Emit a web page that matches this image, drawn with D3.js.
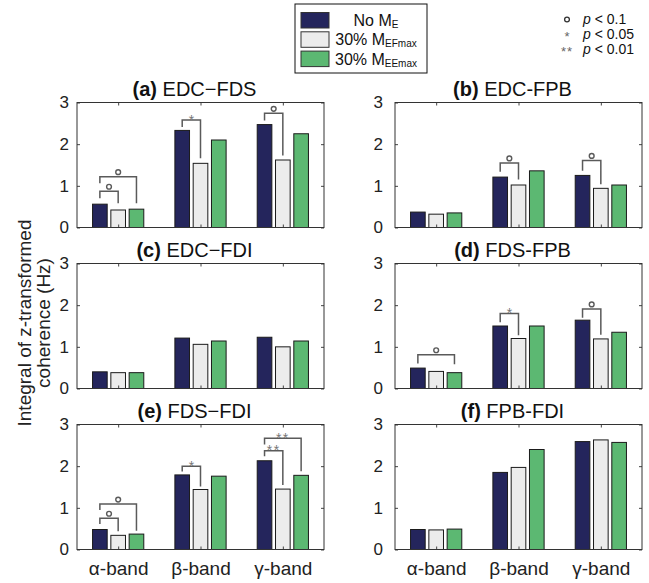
<!DOCTYPE html>
<html>
<head>
<meta charset="utf-8">
<script src="https://cdn.jsdelivr.net/npm/d3@7"></script>
<style>
  html, body { margin: 0; padding: 0; background: #fff; }
  svg { display: block; font-family: "Liberation Sans", Arial, sans-serif; }
</style>
</head>
<body>
<svg id="chart" width="649" height="583"></svg>
<script>
// ---------------- data ----------------
const bands = ["α-band", "β-band", "γ-band"];
const seriesMain = ["No M", "30% M", "30% M"];
const seriesSub = ["E", "EFmax", "EEmax"];
const seriesColors = ["#24255c", "#ececec", "#5cb872"];
const yTicks = [0, 1, 2, 3];

const panelLetters = ["(a)", "(b)", "(c)", "(d)", "(e)", "(f)"];
const panelNames = ["EDC\u2212FDS", "EDC-FPB", "EDC\u2212FDI", "FDS-FPB", "FDS\u2212FDI", "FPB-FDI"];

// rows = series (No ME, 30% MEFmax, 30% MEEmax), columns = bands (alpha, beta, gamma)
const edcFds = [[0.56, 2.33, 2.47], [0.42, 1.54, 1.62], [0.44, 2.10, 2.25]];
const edcFpb = [[0.37, 1.21, 1.25], [0.32, 1.02, 0.94], [0.35, 1.36, 1.02]];
const edcFdi = [[0.40, 1.21, 1.23], [0.38, 1.06, 1.00], [0.38, 1.14, 1.14]];
const fdsFpb = [[0.49, 1.50, 1.64], [0.41, 1.20, 1.19], [0.38, 1.50, 1.35]];
const fdsFdi = [[0.48, 1.79, 2.13], [0.34, 1.44, 1.45], [0.37, 1.76, 1.78]];
const fpbFdi = [[0.48, 1.85, 2.59], [0.47, 1.97, 2.63], [0.49, 2.40, 2.57]];

// significance brackets: [band, fromSeries, toSeries, topValue, leftLegEnd, rightLegEnd, symbol]
const sigEdcFds = [[0, 0, 1, 0.87, 0.70, 0.58, "o"], [0, 0, 2, 1.22, 1.06, 0.58, "o"],
                   [1, 0, 1, 2.58, 2.41, 1.66, "*"], [2, 0, 1, 2.74, 2.57, 1.73, "o"]];
const sigEdcFpb = [[1, 0, 1, 1.55, 1.34, 1.15, "o"], [2, 0, 1, 1.61, 1.36, 1.04, "o"]];
const sigEdcFdi = [];
const sigFdsFpb = [[0, 0, 2, 0.81, 0.60, 0.58, "o"], [1, 0, 1, 1.80, 1.59, 1.28, "*"],
                   [2, 0, 1, 1.91, 1.70, 1.29, "o"]];
const sigFdsFdi = [[0, 0, 1, 0.75, 0.61, 0.44, "o"], [0, 0, 2, 1.09, 0.95, 0.45, "o"],
                   [1, 0, 1, 2.00, 1.87, 1.51, "*"], [2, 0, 1, 2.37, 2.24, 1.55, "**"],
                   [2, 0, 2, 2.67, 2.52, 1.88, "**"]];
const sigFpbFdi = [];

const sigLegendSymbols = ["o", "*", "**"];
const sigLegendTexts = ["< 0.1", "< 0.05", "< 0.01"];

const yLabelLines = ["Integral of z-transformed", "coherence (Hz)"];

const panelValues = [edcFds, edcFpb, edcFdi, fdsFpb, fdsFdi, fpbFdi];
const panelSigs = [sigEdcFds, sigEdcFpb, sigEdcFdi, sigFdsFpb, sigFdsFdi, sigFpbFdi];

// ---------------- layout ----------------
const svg = d3.select("#chart");
const colX = [77, 395];
const rowY = [102.5, 263.5, 424.5];
const pw = 247, ph = 125;
const labelGap = [5, 9];
const font = '"Liberation Sans", Arial, sans-serif';
const bracketColor = "#5a5a5a";

const x = d3.scaleLinear().domain([0.5, 3.5]).range([0, pw]);
const y = d3.scaleLinear().domain([0, 3]).range([ph, 0]);
const groupW = 2 / 3;
const slot = groupW / 3;
const barW = slot * 0.8;
const barCenter = (band, s) => x(band + 1 - groupW / 2 + slot * (s + 0.5));

function drawSymbol(g, sym, cx, cy) {
  if (sym === "o") {
    g.append("circle").attr("cx", cx).attr("cy", cy - 4.5).attr("r", 2.4)
      .attr("fill", "none").attr("stroke", bracketColor).attr("stroke-width", 1.4);
  } else {
    g.append("text").attr("x", cx).attr("y", cy + 4.5)
      .attr("text-anchor", "middle").attr("font-size", 14)
      .attr("letter-spacing", sym.length > 1 ? 1.5 : 0)
      .attr("fill", "#777").text(sym);
  }
}

panelValues.forEach((vals, p) => {
  const col = p % 2, row = Math.floor(p / 2);
  const g = svg.append("g").attr("transform", `translate(${colX[col]},${rowY[row]})`);

  // bars
  vals.forEach((series, s) => {
    g.selectAll(null).data(series).enter().append("rect")
      .attr("x", (v, b) => barCenter(b, s) - (x(0.5 + barW) - x(0.5)) / 2)
      .attr("width", x(0.5 + barW) - x(0.5))
      .attr("y", v => y(v))
      .attr("height", v => y(0) - y(v))
      .attr("fill", seriesColors[s])
      .attr("stroke", "#1b1b1b").attr("stroke-width", 1);
  });

  // brackets
  panelSigs[p].forEach(([b, s1, s2, top, l1, l2, sym]) => {
    const xa = barCenter(b, s1), xb = barCenter(b, s2);
    const path = d3.path();
    path.moveTo(xa, y(l1)); path.lineTo(xa, y(top)); path.lineTo(xb, y(top)); path.lineTo(xb, y(l2));
    g.append("path").attr("d", path.toString()).attr("fill", "none")
      .attr("stroke", bracketColor).attr("stroke-width", 1.5);
    drawSymbol(g, sym, (xa + xb) / 2, y(top));
  });

  // axes (inward ticks on all four sides)
  const axL = g.append("g").call(d3.axisLeft(y).tickValues(yTicks).tickSizeInner(-3).tickSizeOuter(0).tickPadding(labelGap[col] + 3).tickFormat(d3.format("d")));
  const axR = g.append("g").attr("transform", `translate(${pw},0)`).call(d3.axisRight(y).tickValues(yTicks).tickSizeInner(-3).tickSizeOuter(0).tickFormat(""));
  const axT = g.append("g").call(d3.axisTop(x).tickValues([1, 2, 3]).tickSizeInner(-3).tickSizeOuter(0).tickFormat(""));
  const axB = g.append("g").attr("transform", `translate(0,${ph})`).call(d3.axisBottom(x).tickValues([1, 2, 3]).tickSizeInner(-3).tickSizeOuter(0).tickPadding(9)
    .tickFormat(d => row === 2 ? bands[d - 1] : ""));
  [axL, axR, axT, axB].forEach(a => {
    a.select(".domain").remove();
    a.selectAll("line").attr("stroke", "#444");
    a.selectAll("text").attr("font-family", font).attr("fill", "#222");
  });
  axL.selectAll("text").attr("font-size", 17);
  axB.selectAll("text").attr("font-size", 19).attr("dy", "0.85em");

  g.append("rect").attr("width", pw).attr("height", ph)
    .attr("fill", "none").attr("stroke", "#333").attr("stroke-width", 1);

  // title
  const t = g.append("text").attr("x", pw / 2 - 6).attr("y", -7)
    .attr("text-anchor", "middle").attr("font-size", 20).attr("fill", "#111");
  t.append("tspan").attr("font-weight", "bold").text(panelLetters[p]);
  t.append("tspan").text(" " + panelNames[p]);
});

// y axis label
const yl = svg.append("g").attr("transform", "translate(0,323) rotate(-90)");
yLabelLines.forEach((line, i) => {
  yl.append("text").attr("x", 0).attr("y", 31 + i * 19)
    .attr("text-anchor", "middle").attr("font-size", 19).attr("fill", "#222").text(line);
});

// series legend
const lg = svg.append("g");
lg.append("rect").attr("x", 295).attr("y", 4).attr("width", 132).attr("height", 69)
  .attr("fill", "#fff").attr("stroke", "#111").attr("stroke-width", 1);
seriesMain.forEach((m, i) => {
  const ry = 12.5 + i * 19.3;
  lg.append("rect").attr("x", 301).attr("y", ry).attr("width", 28).attr("height", 15.5)
    .attr("fill", seriesColors[i]).attr("stroke", "#333").attr("stroke-width", 1);
  const tx = lg.append("text").attr("x", 376).attr("y", ry + 13.5).attr("text-anchor", "middle")
    .attr("font-size", 16).attr("fill", "#111");
  tx.append("tspan").text(m);
  tx.append("tspan").attr("font-size", 10).attr("dy", 2).text(seriesSub[i]);
});

// significance legend
const sg = svg.append("g");
sigLegendSymbols.forEach((sym, i) => {
  const by = 23.5 + i * 15.2;
  if (sym === "o") {
    sg.append("circle").attr("cx", 567).attr("cy", by - 4).attr("r", 2.4)
      .attr("fill", "none").attr("stroke", "#333").attr("stroke-width", 1.3);
  } else {
    sg.append("text").attr("x", 567).attr("y", by + 2).attr("text-anchor", "middle")
      .attr("font-size", 13).attr("letter-spacing", sym.length > 1 ? 1 : 0)
      .attr("fill", "#666").text(sym);
  }
  const tx = sg.append("text").attr("x", 583).attr("y", by).attr("font-size", 14).attr("fill", "#111");
  tx.append("tspan").attr("font-style", "italic").text("p");
  tx.append("tspan").text(" " + sigLegendTexts[i]);
});
</script>
</body>
</html>
